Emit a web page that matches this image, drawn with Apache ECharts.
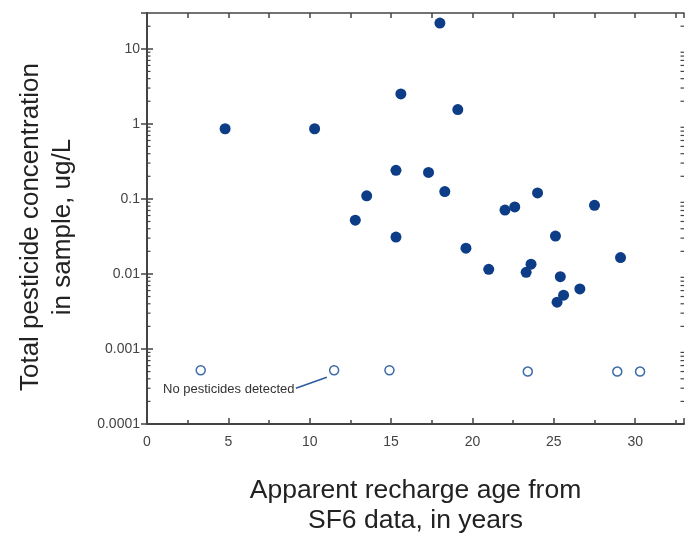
<!DOCTYPE html>
<html>
<head>
    <meta charset="utf-8">
    <title>Pesticide vs recharge age</title>
    <script src="https://cdn.jsdelivr.net/npm/echarts@6.0.0/dist/echarts.min.js"></script>
    <style>
        body { margin: 0; background: #fff; }
    </style>
</head>
<body>
<div id="main" style="width: 688px;height:535px;"></div>
<script type="text/javascript">
    // samples with pesticides detected: [age (years), concentration (ug/L)]
    const detectedAge = [4.8, 10.3, 18.0, 15.6, 19.1, 15.3, 17.3, 13.5, 18.3, 24.0, 12.8, 15.3,
        22.0, 22.6, 27.5, 19.6, 25.1, 29.1, 21.0, 23.3, 23.6, 25.4, 26.6, 25.6, 25.2];
    const detectedConc = [0.86, 0.86, 22, 2.5, 1.55, 0.24, 0.225, 0.11, 0.125, 0.12, 0.052, 0.031,
        0.071, 0.078, 0.082, 0.022, 0.032, 0.0165, 0.0115, 0.0105, 0.0135, 0.0092, 0.0063, 0.0052, 0.0042];

    // samples with no pesticides detected, plotted at a fixed low value
    const noneAge = [3.3, 11.5, 14.9, 23.4, 28.9, 30.3];
    const noneConc = [0.00052, 0.00052, 0.00052, 0.0005, 0.0005, 0.0005];

    const yTickLabels = [0.0001, 0.001, 0.01, 0.1, 1, 10];
    const xTickLabels = [0, 5, 10, 15, 20, 25, 30];
    const minorMultipliers = [2, 3, 4, 5, 6, 7, 8, 9];

    const fontFamily = 'Liberation Sans, Arial, sans-serif';

    // log minor tick values (2..9 x decade)
    let minorValues = [];
    yTickLabels.forEach(function (d) {
        minorMultipliers.forEach(function (m) {
            const v = d * m;
            if (v < 30) minorValues.push(v);
        });
    });

    let myChart = echarts.init(document.getElementById('main'));

    const lineStyle = { color: '#444', width: 1.5 };

    myChart.setOption({
        animation: false,
        backgroundColor: '#fff',
        grid: { left: 147, top: 13, right: 4, bottom: 111, containLabel: false, outerBoundsMode: 'none' },
        xAxis: [{
            type: 'value', min: 0, max: 33, interval: 5,
            name: 'Apparent recharge age from\nSF6 data, in years',
            nameLocation: 'middle', nameGap: 52,
            nameTextStyle: { fontFamily: fontFamily, fontSize: 26.5, color: '#222', lineHeight: 30 },
            axisLine: { lineStyle: { color: '#444', width: 2 } },
            axisTick: { inside: true, length: 6, lineStyle: lineStyle },
            minorTick: { show: true, splitNumber: 2, length: 4, lineStyle: lineStyle },
            splitLine: { show: false },
            axisLabel: {
                showMaxLabel: false, margin: 11,
                fontFamily: fontFamily, fontSize: 14, color: '#444',
                formatter: function (v) { return xTickLabels.indexOf(v) >= 0 ? String(v) : ''; }
            }
        }, {
            type: 'value', min: 0, max: 33, interval: 5, position: 'top',
            axisLine: { show: true, onZero: false, lineStyle: lineStyle },
            axisTick: { inside: true, length: 5, lineStyle: lineStyle },
            minorTick: { show: true, splitNumber: 2, length: 5, lineStyle: lineStyle },
            splitLine: { show: false },
            axisLabel: { show: false }
        }],
        yAxis: [{
            type: 'log', logBase: 10, min: 0.0001, max: 30,
            axisLine: { show: true, lineStyle: { color: '#444', width: 2 } },
            axisTick: { inside: true, length: 6, lineStyle: lineStyle },
            splitLine: { show: false },
            axisLabel: {
                showMaxLabel: false, margin: 7,
                fontFamily: fontFamily, fontSize: 14, color: '#444',
                formatter: function (v) {
                    for (let i = 0; i < yTickLabels.length; i++) {
                        if (Math.abs(v / yTickLabels[i] - 1) < 1e-6) return String(yTickLabels[i]);
                    }
                    return '';
                }
            }
        }, {
            type: 'log', logBase: 10, min: 0.0001, max: 30, position: 'right',
            axisLine: { show: true, lineStyle: lineStyle },
            axisTick: { inside: true, length: 6, lineStyle: lineStyle },
            splitLine: { show: false },
            axisLabel: { show: false }
        }],
        graphic: [{
            type: 'text', x: 47, y: 227, rotation: Math.PI / 2, silent: true,
            style: {
                text: 'Total pesticide concentration\nin sample, ug/L',
                font: '26px ' + fontFamily, fill: '#222', lineHeight: 32,
                align: 'center', verticalAlign: 'middle'
            }
        }, {
            type: 'text', left: 163, top: 383, silent: true,
            style: { text: 'No pesticides detected', font: '13px ' + fontFamily, fill: '#333' }
        }],
        series: [{
            // minor log ticks on the left and right frame
            type: 'custom', silent: true, clip: false, z: 1,
            data: minorValues,
            encode: { y: 0 },
            renderItem: function (params, api) {
                const v = api.value(0);
                const l = api.coord([0, v]);
                const r = api.coord([33, v]);
                return {
                    type: 'group',
                    children: [
                        { type: 'line', shape: { x1: l[0], y1: l[1], x2: l[0] + 3.5, y2: l[1] }, style: { stroke: '#444', lineWidth: 1.2 } },
                        { type: 'line', shape: { x1: r[0], y1: r[1], x2: r[0] - 3.5, y2: r[1] }, style: { stroke: '#444', lineWidth: 1.2 } }
                    ]
                };
            }
        }, {
            type: 'scatter',
            data: detectedAge.map(function (a, i) { return [a, detectedConc[i]]; }),
            symbol: 'circle', symbolSize: 11,
            itemStyle: { color: '#0d3d86', opacity: 1 },
            z: 3
        }, {
            type: 'scatter',
            data: noneAge.map(function (a, i) { return [a, noneConc[i]]; }),
            symbol: 'circle', symbolSize: 9,
            itemStyle: { color: '#fff', borderColor: '#3d6aa8', borderWidth: 1.5, opacity: 1 },
            z: 3,
            markLine: {
                silent: true, symbol: 'none', animation: false,
                lineStyle: { color: '#2d5a9c', width: 1.5, type: 'solid' },
                label: { show: false },
                data: [[{ coord: [9.15, 0.0003] }, { coord: [11.05, 0.00042] }]]
            }
        }]
    });
</script>
</body>
</html>
